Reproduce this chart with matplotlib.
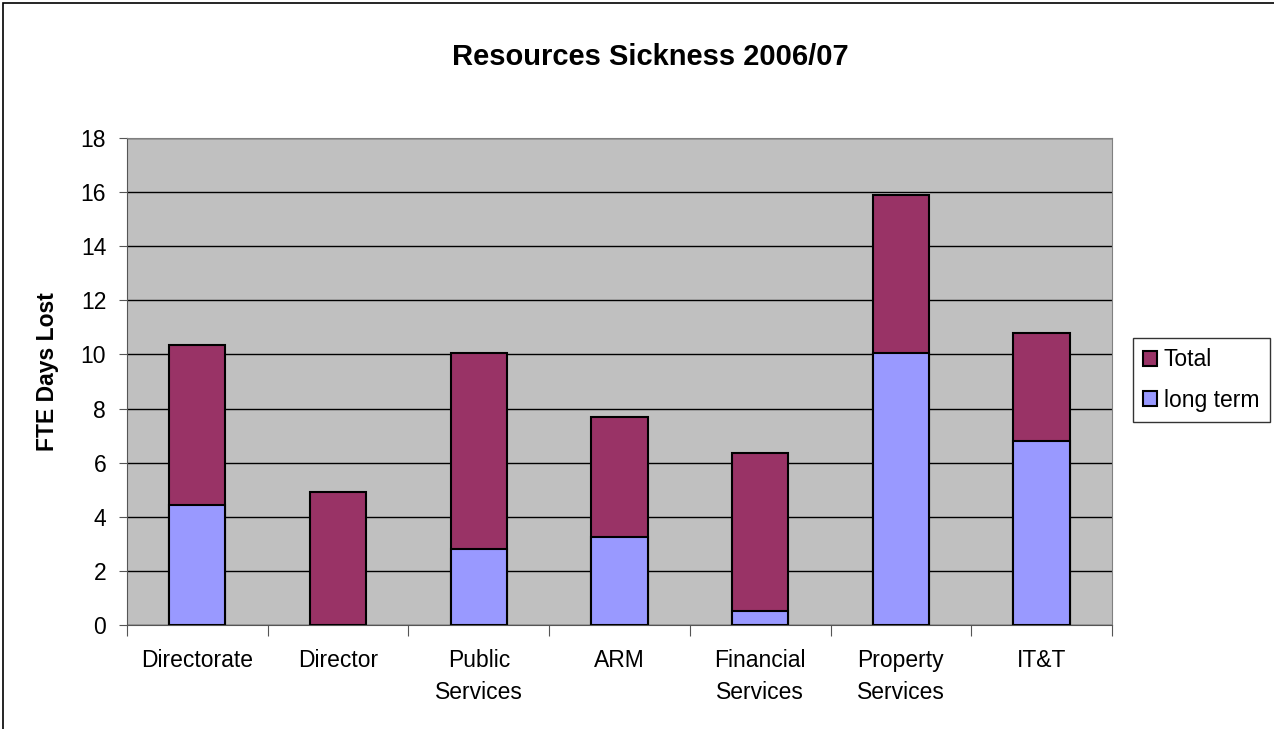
import numpy as np
import matplotlib
matplotlib.use('Agg')
import matplotlib.pyplot as plt
from matplotlib.patches import Rectangle

categories = ['Directorate', 'Director', 'Public\nServices', 'ARM', 'Financial\nServices',
              'Property\nServices', 'IT&T']
total = [10.35, 4.9, 10.05, 7.7, 6.35, 15.9, 10.8]
long_term = [4.45, 0.0, 2.8, 3.25, 0.5, 10.05, 6.8]
yticks = np.arange(0, 19, 2)

plt.rcParams['font.family'] = ['Liberation Sans', 'DejaVu Sans']

fig = plt.figure(figsize=(12.74, 7.29), dpi=100)
ax = fig.add_axes([127/1274, 1-625/729, (1112-127)/1274, (625-138)/729])
ax.set_facecolor('#C0C0C0')

x = np.arange(len(categories))
# Total bar drawn full height, long term drawn over it from zero
ax.bar(x, total, width=0.4, color='#993366', edgecolor='black', lw=1.5, label='Total', zorder=3)
lt = [v if v > 0 else np.nan for v in long_term]
ax.bar(x, lt, width=0.4, color='#9999FF', edgecolor='black', lw=1.5, label='long term', zorder=4)

ax.set_xlim(-0.5, len(categories)-0.5)
ax.set_ylim(0, 18)
ax.set_yticks(yticks)
ax.set_yticklabels([str(v) for v in yticks], fontsize=16.5)
ax.yaxis.grid(True, color='black', lw=1, zorder=1)
ax.set_axisbelow(True)

ax.set_xticks(np.arange(len(categories)+1)-0.5)
ax.set_xticklabels([])
ax.set_xticks(x, minor=True)
ax.set_xticklabels(categories, minor=True, fontsize=16.5, linespacing=1.5, va='top')
ax.tick_params(axis='x', which='minor', length=0, pad=17)
ax.tick_params(axis='x', which='major', length=8, color='#555555', direction='out')
ax.tick_params(axis='y', length=6, color='#555555', direction='out', pad=9)

for s in ['top', 'right']:
    ax.spines[s].set_color('#808080')
for s in ['left', 'bottom']:
    ax.spines[s].set_color('#555555')

ax.set_ylabel('FTE Days Lost', fontsize=16.5, fontweight='bold')
ax.yaxis.set_label_coords((59-127)/985, (625-372)/487)
fig.text(650/1274, 1-57/729, 'Resources Sickness 2006/07',
         ha='center', va='center', fontsize=21, fontweight='bold')

handles, labels = ax.get_legend_handles_labels()
leg = fig.legend(handles, labels, loc='upper left', bbox_to_anchor=(1133/1274, 1-338/729),
                 fontsize=16.5, frameon=True, fancybox=False, edgecolor='black',
                 handlelength=0.6, handleheight=0.6, handletextpad=0.3, borderpad=0.45,
                 labelspacing=0.75, borderaxespad=0)
leg.get_frame().set_linewidth(1)

fig.patches.append(Rectangle((3/1274, -0.1), 1.2, 1-3/729+0.1, transform=fig.transFigure,
                             fill=False, edgecolor='black', lw=1.2))

fig.savefig('out.png', dpi=100)
